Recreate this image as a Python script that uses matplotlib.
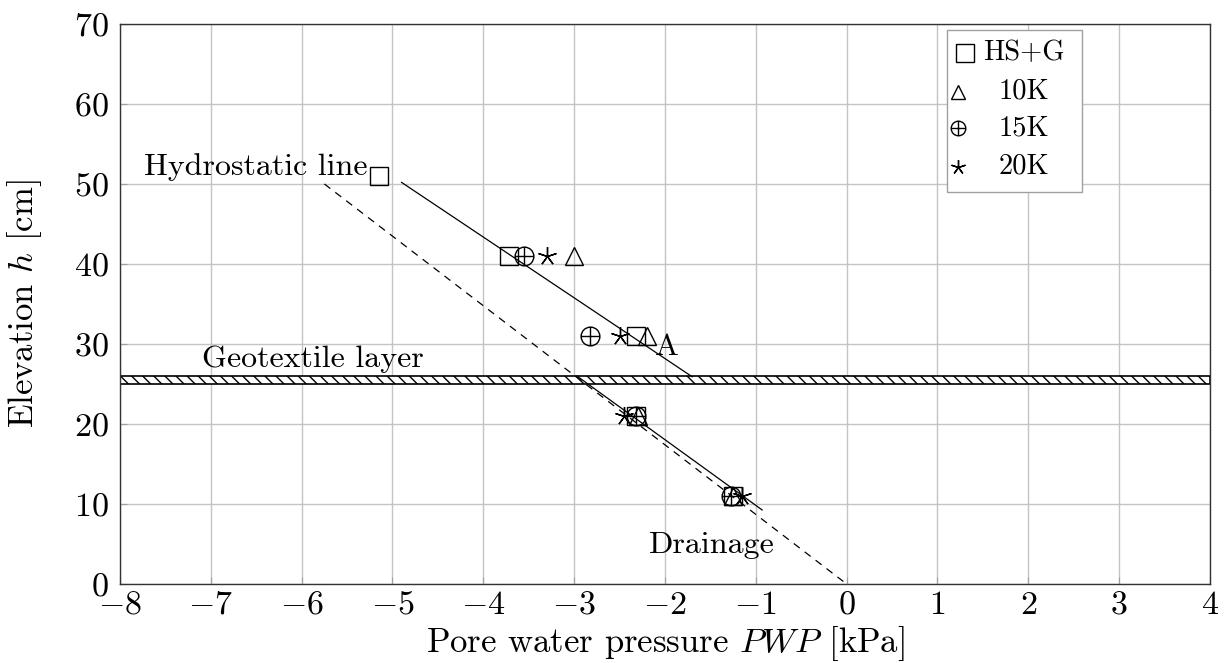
import numpy as np
import matplotlib
matplotlib.use("Agg")
import matplotlib.pyplot as plt
from matplotlib.path import Path
from matplotlib.patches import Rectangle

plt.rcParams["font.family"] = ["cmr10", "DejaVu Serif"]
plt.rcParams["mathtext.fontset"] = "cm"
plt.rcParams["axes.formatter.use_mathtext"] = True
plt.rcParams["hatch.linewidth"] = 1.0

# Measured elevations [cm] and pore water pressures [kPa]
elev_hsg = [51, 41, 31, 21, 11]
pwp_hsg = [-5.15, -3.72, -2.32, -2.32, -1.25]

elev_k = [41, 31, 21, 11]
pwp_10k = [-3.0, -2.2, -2.3, -1.25]
pwp_15k = [-3.55, -2.83, -2.32, -1.27]
pwp_20k = [-3.3, -2.5, -2.45, -1.15]

# Reference lines
hydro_x = [-5.75, 0.0]
hydro_y = [50.0, 0.0]
upper_x = [-4.9, -1.7]
upper_y = [50.2, 25.9]
lower_x = [-2.97, -0.93]
lower_y = [26.0, 9.25]

geotextile = (25.0, 26.0)

x_ticks = list(range(-8, 5))
y_ticks = list(range(0, 71, 10))

# circle with a cross (oplus)
_circ = Path.unit_circle()
_h = Path([(-1, 0), (1, 0)], [Path.MOVETO, Path.LINETO])
_v = Path([(0, -1), (0, 1)], [Path.MOVETO, Path.LINETO])
oplus = Path.make_compound_path(_circ, _h, _v)
star = (5, 2, 0)

fig = plt.figure(figsize=(12.27, 6.63), dpi=100)
ax = fig.add_axes([0.0978, 0.1192, 0.8883, 0.8446])

ax.set_xlim(-8, 4)
ax.set_ylim(0, 70)
ax.set_xticks(x_ticks)
ax.set_yticks(y_ticks)
ax.grid(True, color="#c4c4c4", lw=1.0, zorder=0)
ax.set_axisbelow(True)
ax.tick_params(direction="in", length=5, color="#a0a0a0", labelsize=24.5)
ax.tick_params(axis="x", pad=5)
ax.tick_params(axis="y", pad=8)
for s in ax.spines.values():
    s.set_color("#333333")
    s.set_linewidth(1.0)

# geotextile band
ax.axhspan(geotextile[0], geotextile[1], facecolor="white", edgecolor="black",
           hatch="\\\\\\", lw=1.2, zorder=2)

lw = 0.9
ax.plot(hydro_x, hydro_y, color="black", lw=lw, ls=(0, (6, 5)), zorder=3)
ax.plot(upper_x, upper_y, color="black", lw=lw, zorder=3)
ax.plot(lower_x, lower_y, color="black", lw=lw, zorder=3)

mk = dict(ls="none", color="black", mfc="none", mew=1.0, zorder=4)
ax.plot(pwp_hsg, elev_hsg, marker="s", ms=13.5, **mk)
ax.plot(pwp_15k, elev_k, marker=oplus, ms=13.5, **mk)
ax.plot(pwp_20k, elev_k, marker=star, ms=13.5, **mk)
ax.plot(pwp_10k, elev_k, marker="^", ms=12.5, **mk)

ax.text(-5.28, 51.1, "Hydrostatic line", ha="right", va="baseline",
        fontsize=23)
ax.text(-7.1, 27.1, "Geotextile layer", ha="left", va="baseline",
        fontsize=23)
ax.text(-1.98, 28.6, "A", ha="center", va="baseline", fontsize=23)
ax.text(-2.18, 3.9, "Drainage", ha="left", va="baseline", fontsize=23)

ax.set_xlabel("Pore water pressure $PWP$ [kPa]", fontsize=25, labelpad=3)
ax.set_ylabel("Elevation $h$ [cm]", fontsize=25, labelpad=22)

# legend box
tr = ax.transAxes
ax.add_patch(Rectangle((0.7587, 0.700), 0.1239, 0.289, transform=tr,
                       facecolor="white", edgecolor="#a0a0a0", lw=1.0,
                       zorder=6, clip_on=False))
legend_rows = [("HS+G", "s", 13.5, 0.775, 0.948),
               ("10K", "^", 10.5, 0.769, 0.879),
               ("15K", oplus, 10.5, 0.769, 0.814),
               ("20K", star, 10.5, 0.769, 0.745)]
for label, m, size, mx, my in legend_rows:
    ax.plot([mx], [my], transform=tr, marker=m, ms=size, ls="none",
            color="black", mfc="none", mew=1.0, zorder=7, clip_on=False)
    ax.text(0.8295, my, label, transform=tr, ha="center", va="center",
            fontsize=20.5, zorder=7)

fig.savefig("out.png", dpi=100)
